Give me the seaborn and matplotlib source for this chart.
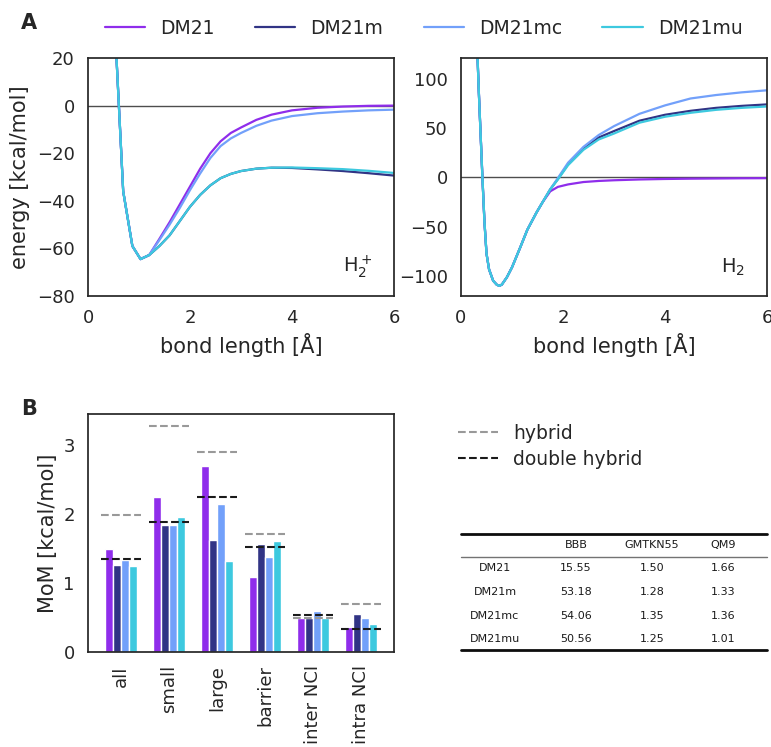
import numpy as np
import pandas as pd
import matplotlib
matplotlib.use("Agg")
import matplotlib.pyplot as plt
from matplotlib.lines import Line2D
import seaborn as sns

# ---------------- data ----------------
functionals = ["DM21", "DM21m", "DM21mc", "DM21mu"]
colors = ["#8F2DEB", "#313485", "#72A0FA", "#3DC9DF"]

# H2+ dissociation curve (energy in kcal/mol vs bond length in Angstrom)
r_h2p = [0.5, 0.69, 0.87, 1.03, 1.2, 1.4, 1.6, 1.8, 2.0, 2.2, 2.4, 2.6, 2.8,
         3.0, 3.3, 3.6, 4.0, 4.5, 5.0, 5.5, 6.0]
e_h2p_dm21 = [45, -36, -59, -64.5, -62.8, -56, -49, -41.5, -34, -26.5, -20, -15,
              -11.5, -9.2, -6, -3.8, -2.0, -0.9, -0.4, -0.1, 0.0]
e_h2p_dm21m = [45, -36, -59, -64.5, -62.8, -59, -54.5, -48.5, -42.5, -37.5, -33.5,
               -30.5, -28.7, -27.5, -26.5, -26.1, -26.2, -26.8, -27.5, -28.4, -29.4]
e_h2p_dm21mc = [45, -36, -59, -64.5, -62.8, -56.5, -50, -43, -35.5, -28.5, -22, -17,
                -13.8, -11.5, -8.5, -6.3, -4.4, -3.2, -2.5, -2.0, -1.7]
e_h2p_dm21mu = [45, -36, -59, -64.5, -62.8, -59, -54.5, -48.5, -42.5, -37.5, -33.5,
                -30.5, -28.7, -27.5, -26.5, -26.1, -26.0, -26.3, -26.7, -27.4, -28.3]

# H2 dissociation curve
r_h2 = [0.3, 0.35, 0.42, 0.46, 0.5, 0.55, 0.63, 0.7, 0.75, 0.8, 0.9, 1.0, 1.16,
        1.3, 1.48, 1.6, 1.75, 1.9, 2.1, 2.4, 2.7, 3.0, 3.5, 4.0, 4.5, 5.0, 5.5, 6.0]
e_h2_dm21 = [155, 86, 0, -45, -77, -93, -104.5, -108.5, -109.7, -108.5, -101, -91,
             -71, -53, -35.5, -25, -14, -9.5, -7, -4.6, -3.5, -2.8, -2.0, -1.5,
             -1.2, -1.0, -0.8, -0.7]
e_h2_dm21m = [155, 86, 0, -45, -77, -93, -104.5, -108.5, -109.7, -108.5, -101, -91,
              -71, -53, -35.5, -25, -12, -1.5, 13.5, 29, 40.5, 47, 57.5, 63.5,
              67.5, 70.5, 72.5, 74]
e_h2_dm21mc = [155, 86, 0, -45, -77, -93, -104.5, -108.5, -109.7, -108.5, -101, -91,
               -71, -53, -35.5, -25, -12, -0.5, 15, 31, 43, 52, 64.5, 73, 80,
               83.5, 86.2, 88.3]
e_h2_dm21mu = [155, 86, 0, -45, -77, -93, -104.5, -108.5, -109.7, -108.5, -101, -91,
               -71, -53, -35.5, -25, -12, -2, 12.5, 28, 38.5, 44.5, 55.5, 61.5,
               65.5, 68.5, 70.5, 71.9]

# Panel B: mean of means (kcal/mol)
categories = ["all", "small", "large", "barrier", "inter NCI", "intra NCI"]
mom_dm21 = [1.49, 2.25, 2.70, 1.09, 0.50, 0.36]
mom_dm21m = [1.26, 1.84, 1.63, 1.56, 0.49, 0.55]
mom_dm21mc = [1.33, 1.84, 2.14, 1.37, 0.60, 0.49]
mom_dm21mu = [1.24, 1.96, 1.32, 1.61, 0.50, 0.41]
hybrid = [1.98, 3.27, 2.90, 1.71, 0.50, 0.69]
double_hybrid = [1.35, 1.89, 2.24, 1.52, 0.54, 0.34]

# Table
table_cols = ["BBB", "GMTKN55", "QM9"]
table_rows = ["DM21", "DM21m", "DM21mc", "DM21mu"]
table_vals = [["15.55", "1.50", "1.66"],
              ["53.18", "1.28", "1.33"],
              ["54.06", "1.35", "1.36"],
              ["50.56", "1.25", "1.01"]]

# ---------------- style ----------------
sns.set_theme(style="white")
plt.rcParams["font.family"] = ["DejaVu Sans"]
plt.rcParams["xtick.labelsize"] = 13
plt.rcParams["ytick.labelsize"] = 13
plt.rcParams["axes.labelsize"] = 15

W, H = 771, 747
fig = plt.figure(figsize=(W / 100, H / 100), dpi=100)


def box(l, t, r, b):
    return [l / W, 1 - b / H, (r - l) / W, (b - t) / H]


ax1 = fig.add_axes(box(88, 58, 394, 296))
ax2 = fig.add_axes(box(461, 58, 767, 296))
axb = fig.add_axes(box(88, 414, 394, 652))
tax = fig.add_axes(box(461, 534, 767, 650))

palette = dict(zip(functionals, colors))


def long_df(r, series):
    rows = []
    for f, e in zip(functionals, series):
        for ri, ei in zip(r, e):
            rows.append((f, ri, ei))
    return pd.DataFrame(rows, columns=["functional", "r", "E"])


df1 = long_df(r_h2p, [e_h2p_dm21, e_h2p_dm21m, e_h2p_dm21mc, e_h2p_dm21mu])
df2 = long_df(r_h2, [e_h2_dm21, e_h2_dm21m, e_h2_dm21mc, e_h2_dm21mu])

for ax, df, ylim, yt, lab in [
    (ax1, df1, (-80, 20), [-80, -60, -40, -20, 0, 20], r"$\mathrm{H}_2^+$"),
    (ax2, df2, (-120, 121), [-100, -50, 0, 50, 100], r"$\mathrm{H}_2$"),
]:
    ax.axhline(0, color="0.3", lw=1.0, zorder=1)
    sns.lineplot(data=df, x="r", y="E", hue="functional", hue_order=functionals,
                 palette=palette, ax=ax, lw=1.6, legend=False, estimator=None,
                 sort=True)
    ax.set_xlim(0, 6)
    ax.set_ylim(*ylim)
    ax.set_xticks([0, 2, 4, 6])
    ax.set_yticks(yt)
    ax.set_xlabel("bond length [Å]")
    ax.set_ylabel("")
    ax.text(0.93, 0.10, lab, transform=ax.transAxes, ha="right", va="baseline",
            fontsize=14, color="0.15")
ax1.set_ylabel("energy [kcal/mol]", labelpad=5)

# ---------------- panel B ----------------
brows = []
for f, vals in zip(functionals, [mom_dm21, mom_dm21m, mom_dm21mc, mom_dm21mu]):
    for c, v in zip(categories, vals):
        brows.append((c, f, v))
dfb = pd.DataFrame(brows, columns=["category", "functional", "MoM"])
sns.barplot(data=dfb, x="category", y="MoM", hue="functional", order=categories,
            hue_order=functionals, palette=palette, width=0.66, saturation=1,
            edgecolor="white", linewidth=1, ax=axb, legend=False)
for i, (h, d) in enumerate(zip(hybrid, double_hybrid)):
    axb.hlines(h, i - 0.41, i + 0.41, colors="0.6", linestyles="--", lw=1.5, zorder=5)
    axb.hlines(d, i - 0.41, i + 0.41, colors="0.1", linestyles="--", lw=1.5, zorder=6)
axb.set_xlim(-0.69, 5.69)
axb.set_ylim(0, 3.45)
axb.set_yticks([0, 1, 2, 3])
axb.set_xlabel("")
axb.set_ylabel("MoM [kcal/mol]")
axb.tick_params(axis="x", rotation=90)

# ---------------- table ----------------
tax.set_xlim(0, 1)
tax.set_ylim(0, 1)
tax.axis("off")
tax.plot([0, 1], [1, 1], color="0.05", lw=2.0, clip_on=False)
tax.plot([0, 1], [0.80, 0.80], color="0.45", lw=1.0, clip_on=False)
tax.plot([0, 1], [0, 0], color="0.05", lw=2.0, clip_on=False)
col_x = [0.111, 0.376, 0.624, 0.856]
row_y = [0.707, 0.50, 0.293, 0.095]
for cx, name in zip(col_x[1:], table_cols):
    tax.text(cx, 0.905, name, ha="center", va="center", fontsize=8, color="0.1")
for ry, rname, vals in zip(row_y, table_rows, table_vals):
    tax.text(col_x[0], ry, rname, ha="center", va="center", fontsize=8, color="0.1")
    for cx, v in zip(col_x[1:], vals):
        tax.text(cx, ry, v, ha="center", va="center", fontsize=8, color="0.1")

# ---------------- legends ----------------
handles = [Line2D([], [], color=c, lw=1.6) for c in colors]
fig.legend(handles, functionals, loc="upper left",
           bbox_to_anchor=(105 / W, 1 - 19 / H), ncol=4, frameon=False,
           borderpad=0, borderaxespad=0, handlelength=2.15, handletextpad=0.8,
           columnspacing=2.15, fontsize=13.5)
ref_handles = [Line2D([], [], color="0.6", ls="--", lw=1.5),
               Line2D([], [], color="0.1", ls="--", lw=1.5)]
fig.legend(ref_handles, ["hybrid", "double hybrid"], loc="upper left",
           bbox_to_anchor=(458 / W, 1 - 424 / H), frameon=False, borderpad=0,
           borderaxespad=0, handlelength=2.15, handletextpad=0.8,
           labelspacing=0.35, fontsize=13.5)

fig.text(21 / W, 1 - 29 / H, "A", fontsize=15, fontweight="bold", va="baseline",
         color="0.15")
fig.text(21 / W, 1 - 415 / H, "B", fontsize=15, fontweight="bold", va="baseline",
         color="0.15")

fig.savefig("out.png", dpi=100)
